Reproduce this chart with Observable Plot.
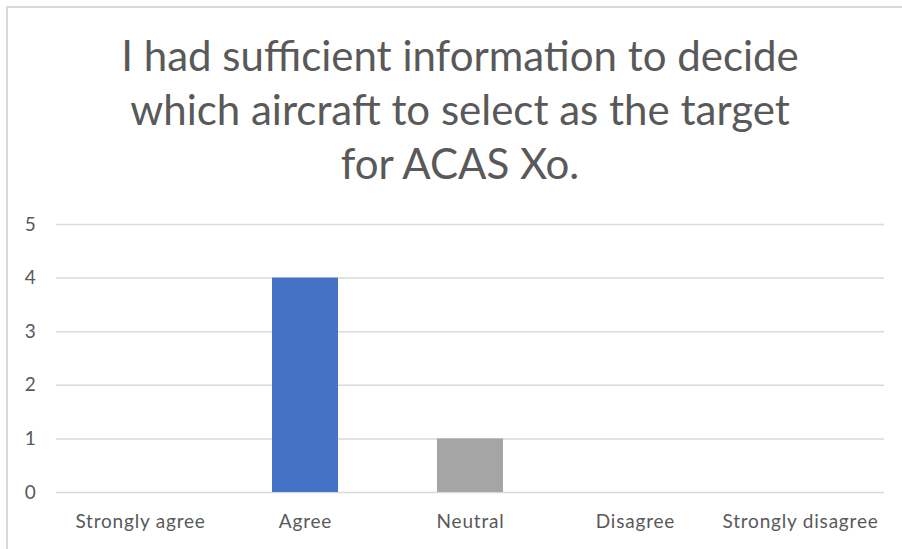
<!DOCTYPE html>
<html>
<head>
<meta charset="utf-8">
<script src="https://cdn.jsdelivr.net/npm/d3@7"></script>
<script src="https://cdn.jsdelivr.net/npm/@observablehq/plot@0.6"></script>
<style>
  html, body { margin: 0; padding: 0; background: #fff; }
  #frame { position: absolute; left: 0; top: 0; width: 902px; height: 549px; overflow: hidden; background: #fff; }
  #border { position: absolute; left: 6px; top: 6px; width: 900px; height: 560px; border-left: 2px solid #d9d9d9; border-top: 2px solid #d9d9d9; }
  #title { position: absolute; left: 60px; width: 800px; top: 28px; text-align: center; font-family: Lato, "Open Sans", sans-serif; font-size: 42px; line-height: 54px; color: #595959; }
  #chart { position: absolute; left: 0; top: 200px; }
  #chart svg text { font-family: Lato, "Open Sans", sans-serif; font-size: 19px; letter-spacing: 0.8px; }
</style>
</head>
<body>
<div id="frame">
  <div id="border"></div>
  <div id="title">I had sufficient information to decide<br>which aircraft to select as the target<br>for ACAS Xo.</div>
  <div id="chart"></div>
</div>
<script>
const categories = ["Strongly agree", "Agree", "Neutral", "Disagree", "Strongly disagree"];
const counts = [0, 4, 1, 0, 0];
const barColors = ["#4472C4", "#4472C4", "#A5A5A5", "#A5A5A5", "#A5A5A5"];
const yTicks = [0, 1, 2, 3, 4, 5];

const data = categories.map((c, i) => ({category: c, count: counts[i], color: barColors[i]}));

const plot = Plot.plot({
  width: 902,
  height: 349,
  marginTop: 24,
  marginBottom: 57,
  marginLeft: 56,
  marginRight: 18,
  style: {fontFamily: "Lato, 'Open Sans', sans-serif", fontSize: "19px", color: "#595959", background: "transparent"},
  x: {domain: categories, paddingInner: 0.6, paddingOuter: 0.3, label: null},
  y: {domain: [0, 5], label: null},
  marks: [
    Plot.gridY(yTicks, {stroke: "#d9d9d9", strokeOpacity: 1, strokeWidth: 1.5}),
    Plot.barY(data, {x: "category", y: "count", fill: "color"}),
    Plot.axisX({tickSize: 0, tickPadding: 22, fontSize: 19, fill: "#595959", label: null}),
    Plot.axisY({ticks: yTicks, tickFormat: "d", tickSize: 0, tickPadding: 20, fontSize: 19, fill: "#595959", label: null})
  ]
});
document.getElementById("chart").appendChild(plot);
</script>
</body>
</html>
